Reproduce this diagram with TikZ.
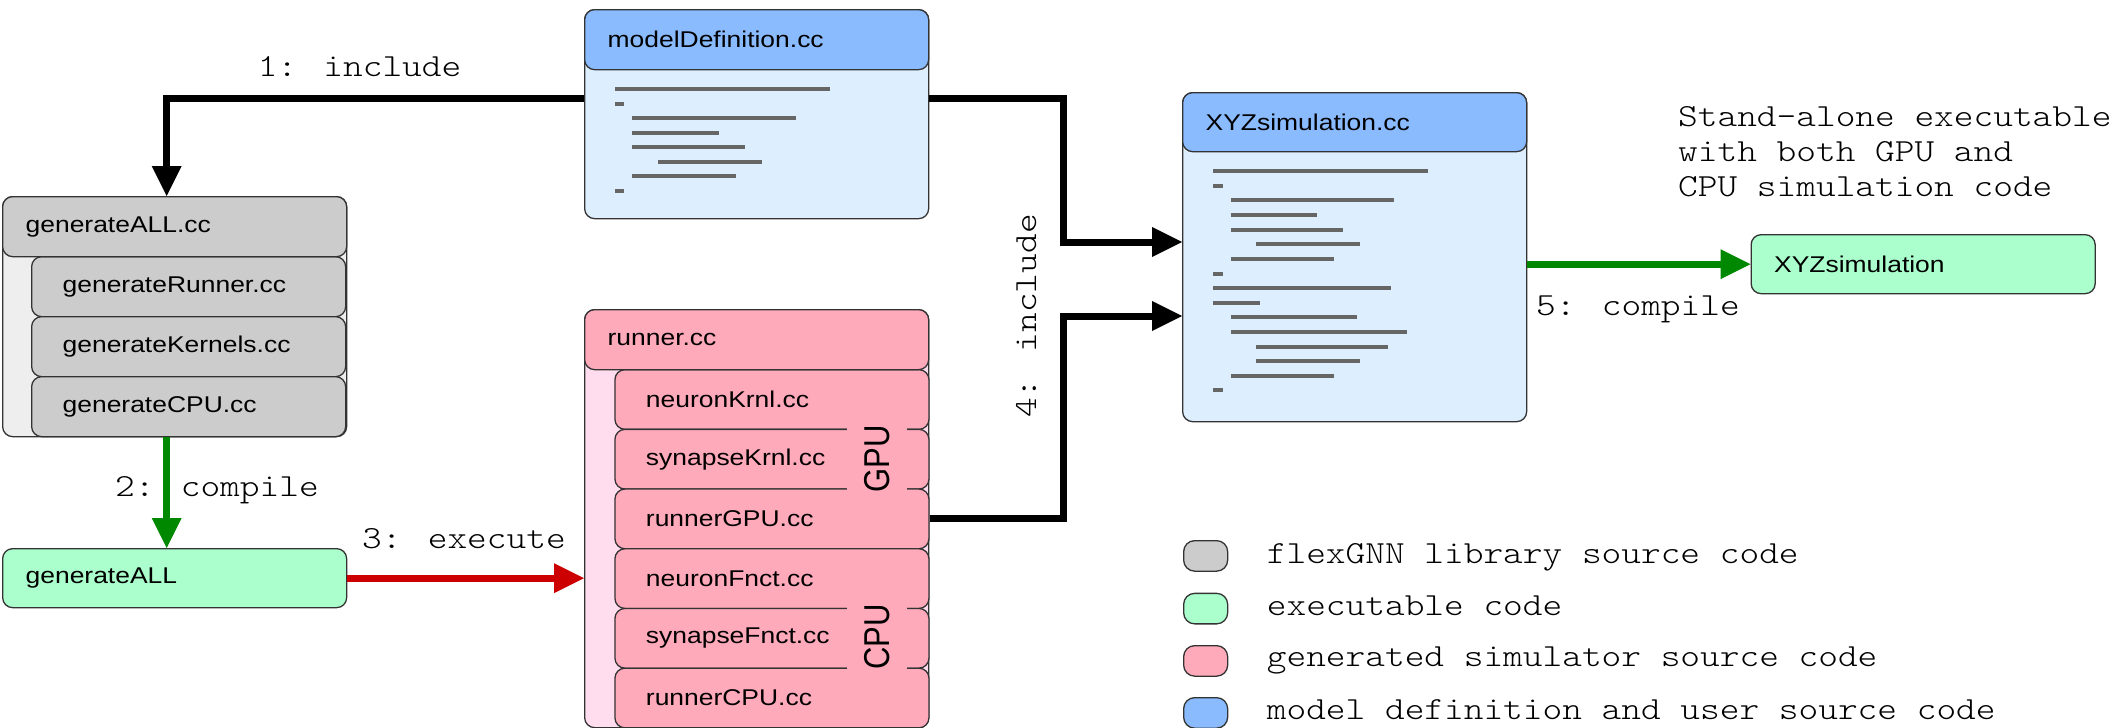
\documentclass[tikz,border=0pt]{standalone}
\usepackage{fontspec}
\usepackage{graphicx}
\usetikzlibrary{arrows.meta,calc}
\newfontfamily\labfont{Liberation Sans}[FakeStretch=1.16]
\newfontfamily\labplain{Liberation Sans}
\newfontfamily\codefont{lmmonolt10-regular.otf}[FakeStretch=1.165]
\definecolor{edge}{HTML}{333333}
\definecolor{grayH}{HTML}{CCCCCC}
\definecolor{grayB}{HTML}{EEEEEE}
\definecolor{blueH}{HTML}{8ABBFF}
\definecolor{blueB}{HTML}{DDEEFF}
\definecolor{pinkH}{HTML}{FFAABB}
\definecolor{pinkB}{HTML}{FFDDEE}
\definecolor{exeG}{HTML}{AAFFCC}
\definecolor{arrG}{HTML}{008800}
\definecolor{arrR}{HTML}{CC0000}
\definecolor{codeL}{HTML}{666666}
\begin{document}
\begin{tikzpicture}[x=1pt,y=-1pt,
  frame/.style={draw=edge, line width=1.3pt, rounded corners=10pt, anchor=north west, inner sep=0pt},
  hdr/.style={frame, inner xsep=23pt, inner ysep=0pt, align=left, text width=298pt,
    minimum height=60pt, font={\labfont\fontsize{22.8pt}{27pt}\selectfont}},
  subbox/.style={hdr, inner xsep=31pt, text width=252pt},
  sidelab/.style={rotate=90, fill=pinkH, inner xsep=4pt, inner ysep=17pt,
    font={\labplain\fontsize{31pt}{31pt}\selectfont}},
  codeln/.style={draw=codeL, line width=4pt},
  lbl/.style={font={\codefont\fontsize{32.2pt}{35pt}\selectfont}, inner sep=0pt, anchor=base west},
  conn/.style={line width=7pt, -{Triangle[length=30pt,width=30pt,line width=0pt]}},
  blk/.style={conn, draw=black},
  grn/.style={conn, draw=arrG},
  redarr/.style={conn, draw=arrR},
  legbox/.style={draw=edge, line width=1.3pt, rounded corners=11pt, anchor=north west,
    minimum width=44pt, minimum height=30.5pt, inner sep=0pt}
]
\useasboundingbox (0,0) rectangle (2113,728);

% ---- modelDefinition.cc ----
\node[frame, fill=blueB, minimum width=344pt, minimum height=209pt] (md) at (584,9) {};
\node[hdr, fill=blueH] (mdh) at (584,9) {modelDefinition.cc};
\foreach \a/\b/\c in {615/830/88.7, 615/624.3/103.7, 632.3/795.7/117.7, 632.3/718.7/132.7,
  632.3/744.7/147, 658/762/162, 632.3/736/176.3, 615/624.3/191}
  \draw[codeln] (\a,\c) -- (\b,\c);

% ---- generateALL.cc ----
\node[frame, fill=grayB, minimum width=344pt, minimum height=240pt] (ga) at (2,196) {};
\node[subbox, fill=grayH] (gar) at (31,256) {generateRunner.cc};
\node[subbox, fill=grayH] (gak) at (31,316) {generateKernels.cc};
\node[subbox, fill=grayH] (gac) at (31,376) {generateCPU.cc};
\node[hdr, fill=grayH] (gah) at (2,196) {generateALL.cc};

% ---- generateALL executable ----
\node[hdr, fill=exeG, minimum height=59pt] (ge) at (2,548) {generateALL};

% ---- runner.cc ----
\node[frame, fill=pinkB, minimum width=344pt, minimum height=418pt] (run) at (584,309) {};
\node[subbox, fill=pinkH, minimum height=59.7pt] (rnk) at (614.3,369) {neuronKrnl.cc};
\node[subbox, fill=pinkH, minimum height=59.7pt] (rsk) at (614.3,428.7) {synapseKrnl.cc};
\node[subbox, fill=pinkH, minimum height=59.7pt] (rgpu) at (614.3,488.4) {runnerGPU.cc};
\node[subbox, fill=pinkH, minimum height=59.7pt] (rnf) at (614.3,548.1) {neuronFnct.cc};
\node[subbox, fill=pinkH, minimum height=59.7pt] (rsf) at (614.3,607.8) {synapseFnct.cc};
\node[subbox, fill=pinkH, minimum height=59.7pt] (rcpu) at (614.3,667.5) {runnerCPU.cc};
\node[hdr, fill=pinkH] (runh) at (584,309) {runner.cc};
\node[sidelab] (gpu) at (877,459) {\scalebox{1}[1.16]{GPU}};
\node[sidelab] (cpu) at (877,637) {\scalebox{1}[1.16]{CPU}};

% ---- XYZsimulation.cc ----
\node[frame, fill=blueB, minimum width=344pt, minimum height=329pt] (xs) at (1182,92) {};
\node[hdr, fill=blueH, minimum height=59pt] (xsh) at (1182,92) {XYZsimulation.cc};
\foreach \a/\b/\c in {1213.3/1428/171, 1213.3/1222.7/186, 1230.7/1393.7/200.3,
  1230.7/1316.7/215, 1230.7/1342.7/229.7, 1256/1360/244.3, 1230.7/1334/259,
  1213.3/1222.7/273.7, 1213.3/1390.7/288.3, 1213.3/1260/302.7, 1230.7/1357/317,
  1230.7/1406.7/331.7, 1256/1388/347, 1256/1360/361.3, 1230.7/1334/375.7,
  1213.3/1222.7/390.3}
  \draw[codeln] (\a,\c) -- (\b,\c);

% ---- XYZsimulation executable ----
\node[hdr, fill=exeG, minimum height=59pt] (xe) at (1750.5,234) {XYZsimulation};

% ---- connectors ----
\coordinate (xsin1) at ([yshift=-150pt]xs.north west);
\coordinate (xsin2) at ([yshift=-224pt]xs.north west);
\draw[blk] ([yshift=-89pt]md.north west) -| ([xshift=-8pt]gah.north);
\draw[grn] ([xshift=-8pt]ga.south) -- ([xshift=-8pt]ge.north);
\draw[redarr] (ge.east) -- (ge.east -| run.west);
\draw[blk] ([yshift=-89pt]md.north east) -| ([xshift=-119pt]xsin1) -- (xsin1);
\draw[blk] (rgpu.east) -| ([xshift=-119pt]xsin2) -- (xsin2);
\draw[grn] (xs.east |- xe.west) -- (xe.west);

% ---- labels ----
\node[lbl] (l1) at (257.6,76.7) {1: include};
\node[lbl] (l2) at (115,496) {2: compile};
\node[lbl] (l3) at (362,548) {3: execute};
\node[lbl, rotate=90] (l4) at (1036,418) {4: include};
\node[lbl] (l5) at (1536,315) {5: compile};
\node[lbl] (st1) at (1678,126.7) {Stand-alone executable};
\node[lbl] (st2) at (1678,161.5) {with both GPU and};
\node[lbl] (st3) at (1678,196.5) {CPU simulation code};

% ---- legend ----
\node[legbox, fill=grayH] (lg1) at (1183,540) {};
\node[legbox, fill=exeG] (lg2) at (1183,592.7) {};
\node[legbox, fill=pinkH] (lg3) at (1183,645) {};
\node[legbox, fill=blueH] (lg4) at (1183,697) {};
\node[lbl] (lt1) at (1266.7,563.3) {flexGNN library source code};
\node[lbl] (lt2) at (1266.7,615) {executable code};
\node[lbl] (lt3) at (1266.7,666.7) {generated simulator source code};
\node[lbl] (lt4) at (1266.7,719) {model definition and user source code};
\end{tikzpicture}
\end{document}
